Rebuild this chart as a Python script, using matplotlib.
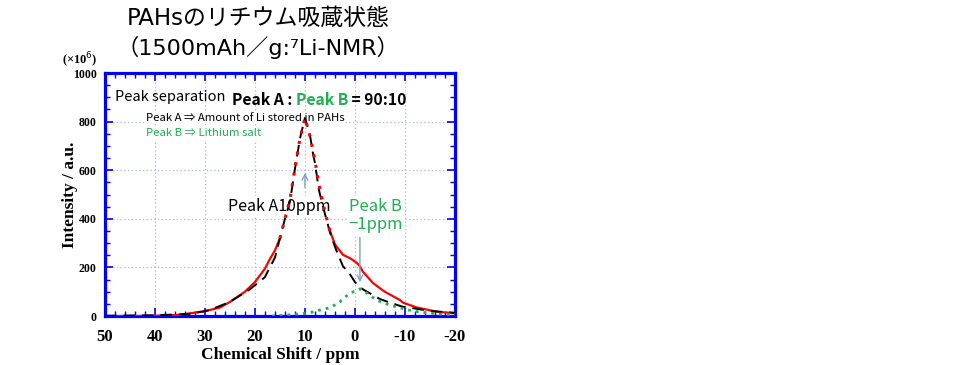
import numpy as np
import matplotlib
matplotlib.use("Agg")
import matplotlib.pyplot as plt
from matplotlib.ticker import MultipleLocator

plt.rcParams['font.family'] = ['Noto Sans CJK JP', 'DejaVu Sans']
plt.rcParams['axes.unicode_minus'] = False

# 読み取った値 (x: ppm, y: ×10^6)
shift_exp = [50, 45, 40, 35, 30, 27, 25, 22, 20, 18, 17, 16, 15, 14, 13, 12, 11, 10,
             9, 8, 7, 6, 5, 4, 3, 2.4, 1, 0.4, -0.4, -1, -1.6, -3, -3.6, -5.6, -6.4,
             -9, -9.6, -12.4, -15.6, -17, -20]
intensity_exp = [0, 0, 1, 5, 20, 35, 58, 100, 140, 195, 235, 270, 320, 400, 480, 610, 730, 815,
                 740, 640, 520, 430, 350, 295, 268, 252, 238, 230, 218, 205, 182, 150, 136, 105, 95,
                 66, 55, 35, 21, 16, 12]

shift_a = [50, 40, 35, 33, 30, 29, 25, 24.4, 21, 18, 17.6, 16, 14, 13, 12, 11, 10,
           9, 8.4, 8, 7.2, 6, 5, 4, 3, 2.4, 1, 0, -1, -2, -5, -7, -9.6, -11, -15, -20]
intensity_a = [1, 3, 7, 9, 20, 25, 58, 66, 110, 160, 177, 240, 400, 470, 605, 730, 815,
               745, 670, 630, 518, 420, 345, 285, 235, 205, 172, 140, 118, 105, 70, 55, 38, 34, 21, 13]

shift_b = [16.6, 14, 12, 10, 8, 7, 5, 3, 2.4, 1, 0, -0.6, -1, -2, -3.6, -5, -7, -10.4, -13,
           -15, -17, -20]
intensity_b = [0, 3, 7, 11, 18, 25, 34, 58, 72, 92, 104, 108, 112, 100, 76, 60, 45, 26, 16,
               12, 8, 5]

green = '#1fb050'
fig = plt.figure(figsize=(9.8, 3.65), dpi=100)
ax = fig.add_axes([0.1071, 0.1342, 0.3571, 0.6658])

x_exp = np.array(shift_exp)
y_exp = np.array(intensity_exp)
mid = (x_exp >= 5) & (x_exp <= 15)
left = x_exp >= 15
right = x_exp <= 5
ax.plot(x_exp[left], y_exp[left], color='red', lw=1.6, zorder=3)
ax.plot(x_exp[right], y_exp[right], color='red', lw=1.6, zorder=3)
ax.plot(x_exp[mid], y_exp[mid], color='red', lw=2.2, ls=(0, (1, 2.5)), zorder=4)
ax.plot(shift_a, intensity_a, color='black', lw=1.4, ls=(0, (6, 3.5)), zorder=3)
ax.plot(shift_b, intensity_b, color=green, lw=2.0, ls=(0, (1, 1.8)), zorder=3)

ax.set_xlim(50, -20)
ax.set_ylim(0, 1000)
ax.xaxis.set_major_locator(MultipleLocator(10))
ax.xaxis.set_minor_locator(MultipleLocator(2))
ax.yaxis.set_major_locator(MultipleLocator(200))
ax.yaxis.set_minor_locator(MultipleLocator(50))
ax.grid(True, which='major', color='#aab0f0', ls=(0, (1, 2)), lw=0.9)
ax.set_axisbelow(True)
for s in ax.spines.values():
    s.set_color('blue')
    s.set_linewidth(2.3)
ax.tick_params(which='both', direction='in', color='blue', top=True, right=True)
ax.tick_params(which='major', length=6, width=1.2)
ax.tick_params(which='minor', length=3.5, width=1.0)
ax.tick_params(axis='x', pad=9)
ax.tick_params(axis='y', pad=6)
for lab in ax.get_xticklabels():
    lab.set_fontfamily('Liberation Serif')
    lab.set_fontweight('bold')
    lab.set_fontsize(12)
for lab in ax.get_yticklabels():
    lab.set_fontfamily('Liberation Serif')
    lab.set_fontweight('bold')
    lab.set_fontsize(8.5)

ax.set_xlabel('Chemical Shift / ppm', fontfamily='Liberation Serif', fontweight='bold',
              fontsize=12.5, labelpad=2)
ax.set_ylabel('Intensity / a.u.', fontfamily='Liberation Serif', fontweight='bold',
              fontsize=12.5, labelpad=-4)
ax.text(-0.071, 1.053, r'(×10$^6$)', transform=ax.transAxes, ha='center', va='center',
        fontfamily='Liberation Serif', fontweight='bold', fontsize=9)

# タイトル
title_font = ['DejaVu Sans', 'Noto Sans CJK JP']
fig.text(0.263, 0.95, 'PAHsのリチウム吸蔵状態', ha='center', va='center', fontsize=16.5,
         family=title_font)
fig.text(0.263, 0.87, '（1500mAh／g:⁷Li-NMR）', ha='center', va='center', fontsize=16,
         family=title_font)

# 注釈
ax.text(48, 903, 'Peak separation', ha='left', va='center', fontsize=10.5, zorder=6)
t1 = ax.text(24.6, 888, 'Peak A : ', ha='left', va='center', fontsize=11.3, fontweight='bold', zorder=6)
t2 = ax.annotate('Peak B', xy=(1, 0), xycoords=t1, va='bottom', ha='left',
                 fontsize=11.3, fontweight='bold', color=green, zorder=6)
ax.annotate(' = 90:10', xy=(1, 0), xycoords=t2, va='bottom', ha='left',
            fontsize=11.3, fontweight='bold', zorder=6)
box = dict(facecolor='white', edgecolor='none', pad=1.0)
ax.text(41.8, 815, 'Peak A ⇒ Amount of Li stored in PAHs', ha='left', va='center',
        fontsize=8.2, bbox=box, zorder=2)
ax.text(41.8, 752, 'Peak B ⇒ Lithium salt', ha='left', va='center', fontsize=8.2,
        color=green, bbox=box, zorder=2)
ax.text(15.2, 452, 'Peak A10ppm', ha='center', va='center', fontsize=11.5, bbox=box, zorder=2)
ax.text(-4.2, 452, 'Peak B', ha='center', va='center', fontsize=12, color=green, bbox=box, zorder=2)
ax.text(-4.2, 378, '−1ppm', ha='center', va='center', fontsize=12, color=green, bbox=box, zorder=2)
arrow = dict(arrowstyle='->', color='#7f9fd0', lw=1.0)
ax.annotate('', xy=(10, 600), xytext=(10, 518), arrowprops=arrow, zorder=5)
ax.annotate('', xy=(-1, 128), xytext=(-1, 335), arrowprops=arrow, zorder=5)

fig.savefig('out.png', dpi=100)
